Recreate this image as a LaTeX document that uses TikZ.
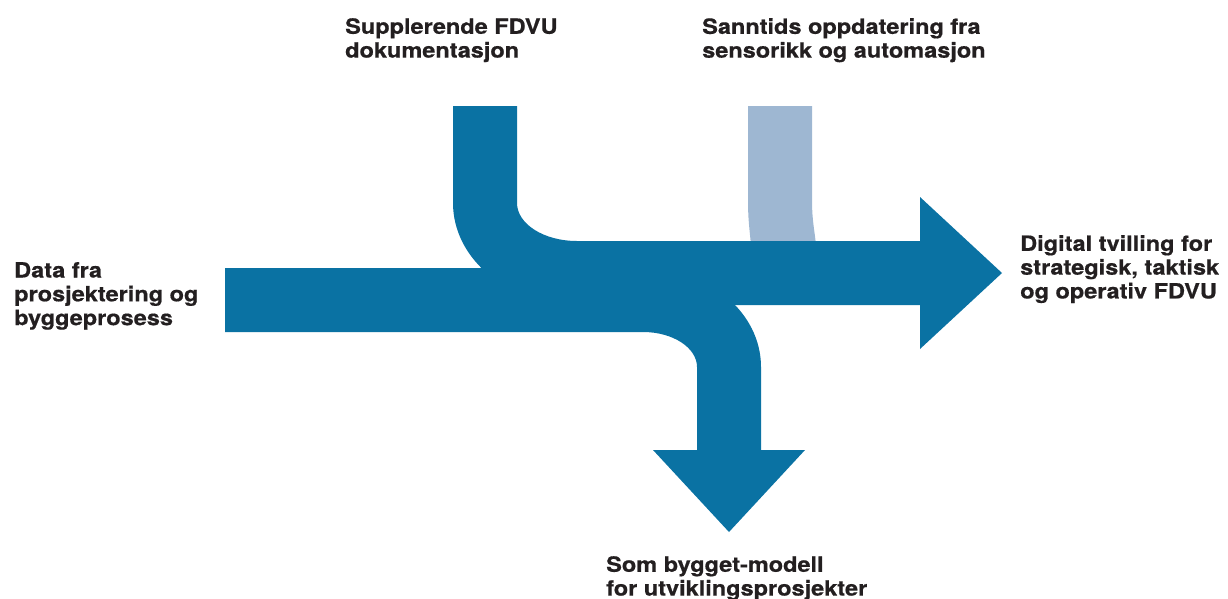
\documentclass[tikz,border=0pt]{standalone}
\usepackage{fontspec}
\setmainfont{TeX Gyre Heros}[BoldFeatures={FakeStretch=1.12,FakeBold=0.6}]
\definecolor{flowdark}{HTML}{0A72A3}
\definecolor{flowlight}{HTML}{9EB7D2}
\definecolor{labeltext}{HTML}{231F20}
\tikzset{
  label/.style={anchor=north west, inner sep=0pt, align=left, text=labeltext,
    font=\bfseries\fontsize{21}{23.8}\selectfont}
}

\begin{document}
\begin{tikzpicture}[x=1pt,y=-1pt]
  \useasboundingbox (0,0) rectangle (1228,598);

  % light stream from sensors, behind the rest
  \fill [flowlight] (748,106) -- (812,106) -- (812,200)
    .. controls (812,222) and (815,232) .. (816,246) -- (751,246)
    .. controls (750,232) and (748,222) .. (748,200) -- cycle;

  % input stream and downward branch
  \fill [flowdark] (225,268) -- (643,268)
    .. controls (708.2,268) and (761,312.3) .. (761,367) -- (761,450)
    -- (805,450) -- (729,532) -- (653,450) -- (697,450) -- (697,367)
    .. controls (697,347.7) and (672.8,332) .. (643,332) -- (225,332) -- cycle;

  % top stream joining the main arrow
  \fill [flowdark] (453,106) -- (517,106) -- (517,203)
    .. controls (517,224) and (543.9,241) .. (577,241) -- (920,241)
    -- (920,197) -- (1002,273) -- (920,349) -- (920,305) -- (577,305)
    .. controls (508.5,305) and (453,259.3) .. (453,203) -- cycle;

  \node [label] (input) at (14,262) {Data fra\\prosjektering og\\byggeprosess};
  \node [label] (docs) at (345,18) {Supplerende FDVU\\dokumentasjon};
  \node [label] (sensors) at (702,18) {Sanntids oppdatering fra\\sensorikk og automasjon};
  \node [label] (twin) at (1020,235) {Digital tvilling for\\strategisk, taktisk\\og operativ FDVU};
  \node [label] (asbuilt) at (606,556) {Som bygget-modell\\for utviklingsprosjekter};
\end{tikzpicture}
\end{document}
